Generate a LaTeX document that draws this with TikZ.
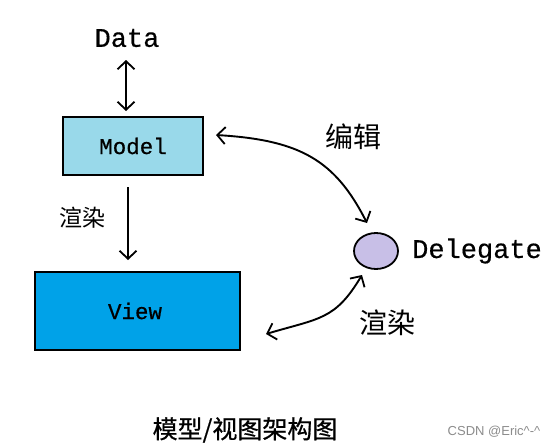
\documentclass[tikz,border=0pt]{standalone}
\usepackage{fontspec}
\setmainfont{Liberation Serif}
\newfontfamily\monof[FakeBold=0.5]{Liberation Mono}
\newfontfamily\cjk{Noto Sans CJK SC}
\newfontfamily\cjkb[FakeBold=0.7]{Noto Sans CJK SC}
\newfontfamily\wmf{Liberation Sans}
\usetikzlibrary{arrows.meta,shapes.geometric}
\begin{document}
\begin{tikzpicture}[x=1pt,y=-1pt,
  conn/.style={line width=1.9pt,{Straight Barb[length=8pt,width=17pt,line width=1.8pt]}-{Straight Barb[length=8pt,width=17pt,line width=1.8pt]}},
  oneway/.style={line width=1.9pt,-{Straight Barb[length=8pt,width=17pt,line width=1.8pt]}},
  boxstyle/.style={draw=black,line width=2pt,rectangle,inner sep=0pt},
  lbl/.style={inner sep=0pt,font=\monof}]
\useasboundingbox[fill=white] (0,0) rectangle (552,447);
% boxes
\node[boxstyle,fill={rgb,255:red,153;green,217;blue,234},minimum width=140pt,minimum height=58pt] (model) at (133,146) {};
\node[lbl,font=\monof\fontsize{22.5}{22.5}\selectfont] (modeltxt) at (133,146) {Model};
\node[boxstyle,fill={rgb,255:red,0;green,162;blue,232},minimum width=205pt,minimum height=78pt] (view) at (137.5,311) {};
\node[lbl,font=\monof\fontsize{22.5}{22.5}\selectfont] (viewtxt) at (135,311) {View};
\node[draw=black,line width=1.8pt,ellipse,fill={rgb,255:red,200;green,191;blue,231},minimum width=44pt,minimum height=36pt,inner sep=0pt] (deleg) at (376,251) {};
% labels
\node[lbl,font=\monof\fontsize{27}{27}\selectfont] (data) at (127,38) {Data};
\node[lbl,font=\monof\fontsize{27}{27}\selectfont,anchor=west] (delegtxt) at (412,251) {Delegate};
\node[lbl,font=\cjk\fontsize{28}{28}\selectfont] (edit) at (353,137) {编辑};
\node[lbl,font=\cjk\fontsize{28}{28}\selectfont] (render2) at (387,323) {渲染};
\node[lbl,font=\cjk\fontsize{23}{23}\selectfont] (render1) at (82,218) {渲染};
\node[lbl,font=\cjkb\fontsize{25}{25}\selectfont] (caption) at (245,430) {模型/视图架构图};
\node[lbl,font=\wmf\fontsize{13}{13}\selectfont,text={rgb,255:red,140;green,140;blue,140}] (wm) at (494,432) {CSDN @Eric\^{}-\^{}};
% connectors
\coordinate (dtop) at (126,60);
\coordinate (dbot) at (126,111);
\draw[conn] (dtop) -- (dbot);
\coordinate (mdown) at (128,187);
\coordinate (vup) at (128,260);
\draw[oneway] (mdown) -- (vup);
\coordinate (me) at (216,135);
\coordinate (dn) at (367,223);
\draw[conn] (me) .. controls (300,140) and (335,160) .. (dn);
\coordinate (ve) at (266,334);
\coordinate (ds) at (362,275);
\draw[conn] (ve) .. controls (320,318) and (335,320) .. (ds);
\end{tikzpicture}
\end{document}
